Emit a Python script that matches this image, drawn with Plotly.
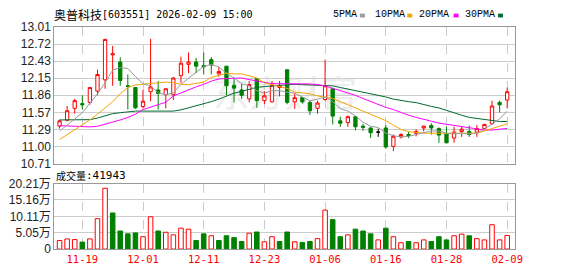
import plotly.graph_objects as go

W, H = 578, 276

dates = [
    "2025-11-14", "2025-11-17", "2025-11-18", "2025-11-19", "2025-11-20", "2025-11-21",
    "2025-11-24", "2025-11-25", "2025-11-26", "2025-11-27", "2025-11-28", "2025-12-01",
    "2025-12-02", "2025-12-03", "2025-12-04", "2025-12-05", "2025-12-08", "2025-12-09",
    "2025-12-10", "2025-12-11", "2025-12-12", "2025-12-15", "2025-12-16", "2025-12-17",
    "2025-12-18", "2025-12-19", "2025-12-22", "2025-12-23", "2025-12-24", "2025-12-25",
    "2025-12-26", "2025-12-29", "2025-12-30", "2025-12-31", "2026-01-05", "2026-01-06",
    "2026-01-07", "2026-01-08", "2026-01-09", "2026-01-12", "2026-01-13", "2026-01-14",
    "2026-01-15", "2026-01-16", "2026-01-19", "2026-01-20", "2026-01-21", "2026-01-22",
    "2026-01-23", "2026-01-26", "2026-01-27", "2026-01-28", "2026-01-29", "2026-01-30",
    "2026-02-02", "2026-02-03", "2026-02-04", "2026-02-05", "2026-02-06", "2026-02-09",
]

opens = [11.34, 11.44, 11.64, 11.72, 11.74, 11.93, 12.12, 12.54, 12.42, 12.02,
         11.99, 11.67, 11.92, 11.95, 11.87, 11.87, 12.19, 12.38, 12.42, 12.36,
         12.46, 12.22, 12.35, 12.03, 11.95, 11.80, 12.14, 11.77, 11.75, 11.99,
         12.29, 11.75, 11.82, 11.74, 11.64, 11.79, 11.97, 11.43, 11.40, 11.50,
         11.34, 11.31, 11.24, 11.31, 11.00, 11.16, 11.20, 11.22, 11.31, 11.35,
         11.30, 11.21, 11.14, 11.25, 11.25, 11.24, 11.30, 11.38, 11.74, 11.78]
highs = [11.45, 11.68, 11.80, 11.86, 11.99, 12.29, 12.81, 12.69, 12.50, 12.21,
         11.99, 11.95, 12.81, 12.10, 11.97, 12.17, 12.51, 12.58, 12.49, 12.58,
         12.50, 12.34, 12.35, 12.16, 12.05, 12.10, 12.15, 11.93, 12.10, 12.10,
         12.29, 11.89, 11.83, 11.78, 11.77, 12.46, 11.99, 11.50, 11.52, 11.50,
         11.38, 11.32, 11.30, 11.36, 11.20, 11.22, 11.25, 11.29, 11.35, 11.39,
         11.32, 11.33, 11.33, 11.33, 11.35, 11.36, 11.38, 11.77, 11.77, 11.99]
lows = [11.30, 11.42, 11.55, 11.62, 11.70, 11.86, 11.97, 12.02, 12.02, 11.62,
        11.63, 11.64, 11.76, 11.62, 11.64, 11.78, 12.07, 12.23, 12.23, 12.21,
        12.21, 12.17, 11.86, 11.74, 11.80, 11.74, 11.65, 11.71, 11.74, 11.84,
        11.71, 11.63, 11.72, 11.53, 11.55, 11.77, 11.37, 11.33, 11.33, 11.27,
        11.26, 11.14, 11.16, 10.96, 10.92, 11.13, 11.14, 11.17, 11.25, 11.20,
        11.06, 11.06, 11.06, 11.16, 11.16, 11.16, 11.28, 11.37, 11.57, 11.64]
closes = [11.43, 11.60, 11.77, 11.70, 11.99, 12.21, 12.80, 12.56, 12.11, 12.01,
          11.65, 11.76, 12.00, 11.89, 11.97, 12.15, 12.40, 12.42, 12.35, 12.34,
          12.37, 12.26, 12.02, 11.98, 11.86, 12.04, 11.77, 11.85, 12.03, 12.02,
          11.74, 11.82, 11.75, 11.60, 11.73, 12.02, 11.51, 11.39, 11.50, 11.33,
          11.32, 11.23, 11.24, 10.99, 11.17, 11.20, 11.18, 11.25, 11.34, 11.31,
          11.19, 11.06, 11.24, 11.29, 11.20, 11.30, 11.37, 11.68, 11.70, 11.92]

ma5 = [11.259, 11.355, 11.461, 11.567, 11.726, 11.885, 12.071, 12.283, 12.326, 12.310,
       12.177, 12.055, 12.018, 11.901, 11.869, 11.901, 12.045, 12.151, 12.241, 12.347,
       12.379, 12.336, 12.230, 12.151, 12.055, 12.018, 11.938, 11.896, 11.938, 11.938,
       11.912, 11.896, 11.832, 11.769, 11.795, 11.832, 11.753, 11.636, 11.594, 11.514,
       11.408, 11.339, 11.318, 11.222, 11.180, 11.159, 11.169, 11.196, 11.233, 11.259,
       11.259, 11.222, 11.212, 11.222, 11.212, 11.222, 11.291, 11.381, 11.461, 11.594]
ma10 = [11.116, 11.196, 11.275, 11.355, 11.445, 11.541, 11.647, 11.753, 11.885, 11.991,
        12.034, 12.045, 12.061, 12.071, 12.082, 12.071, 12.045, 12.039, 12.055, 12.082,
        12.161, 12.198, 12.230, 12.220, 12.220, 12.188, 12.151, 12.071, 12.045, 12.007,
        11.976, 11.912, 11.901, 11.885, 11.848, 11.832, 11.806, 11.753, 11.700, 11.636,
        11.583, 11.530, 11.477, 11.434, 11.355, 11.286, 11.249, 11.233, 11.222, 11.222,
        11.222, 11.217, 11.212, 11.212, 11.212, 11.222, 11.259, 11.302, 11.339, 11.381]
ma20 = [11.350, 11.344, 11.339, 11.328, 11.328, 11.339, 11.371, 11.408, 11.445, 11.488,
        11.541, 11.620, 11.657, 11.700, 11.742, 11.848, 11.901, 11.949, 12.002, 12.045,
        12.098, 12.135, 12.140, 12.151, 12.151, 12.124, 12.098, 12.071, 12.055, 12.055,
        12.055, 12.055, 12.055, 12.050, 12.039, 12.018, 11.976, 11.938, 11.901, 11.859,
        11.806, 11.753, 11.710, 11.657, 11.620, 11.567, 11.525, 11.488, 11.450, 11.424,
        11.392, 11.371, 11.355, 11.328, 11.318, 11.286, 11.275, 11.275, 11.286, 11.302]
ma30 = [11.445, 11.445, 11.445, 11.445, 11.450, 11.477, 11.514, 11.551, 11.567, 11.583,
        11.594, 11.594, 11.594, 11.583, 11.583, 11.594, 11.615, 11.647, 11.678, 11.710,
        11.753, 11.795, 11.848, 11.896, 11.928, 11.965, 11.991, 12.007, 12.018, 12.029,
        12.039, 12.045, 12.039, 12.034, 12.029, 12.029, 12.018, 11.991, 11.965, 11.938,
        11.912, 11.896, 11.869, 11.832, 11.795, 11.769, 11.753, 11.737, 11.700, 11.673,
        11.647, 11.604, 11.557, 11.525, 11.488, 11.472, 11.445, 11.434, 11.419, 11.419]

volumes_wan = [2.64, 3.13, 2.93, 2.15, 3.13, 9.38, 18.75, 11.13, 5.57, 4.69,
               4.98, 3.81, 9.96, 5.57, 5.18, 4.39, 6.45, 6.15, 2.64, 4.69,
               4.10, 2.64, 4.10, 3.52, 2.34, 4.88, 5.27, 2.25, 3.81, 2.34,
               5.27, 2.25, 2.05, 2.34, 3.22, 12.01, 9.08, 3.81, 4.39, 6.15,
               5.57, 4.69, 2.83, 6.45, 3.81, 1.95, 2.34, 1.95, 2.83, 2.34,
               3.81, 2.83, 4.10, 4.59, 4.10, 3.22, 2.83, 7.52, 2.83, 4.19]

tick_dates = ["2025-11-19", "2025-12-01", "2025-12-11", "2025-12-23",
              "2026-01-06", "2026-01-16", "2026-01-28", "2026-02-09"]
tick_labels = ["11-19", "12-01", "12-11", "12-23", "01-06", "01-16", "01-28", "02-09"]

price_ticks = [10.71, 10.9975, 11.285, 11.5725, 11.86, 12.1475, 12.435, 12.7225, 13.01]
price_labels = ["10.71", "11.00", "11.29", "11.57", "11.86", "12.15", "12.43", "12.72", "13.01"]
vol_ticks = [0, 5.0525, 10.105, 15.1575, 20.21]
vol_labels = ["0", "5.05万", "10.11万", "15.16万", "20.21万"]

title_name = "奥普科技"
title_rest = "[603551] 2026-02-09 15:00"
vol_title = "成交量"
vol_last = ":41943"

RED = "#ff0000"
GREEN = "#008000"
MA_COLORS = {"5PMA": "#9a9a9a", "10PMA": "#f5a300", "20PMA": "#ff00ff", "30PMA": "#006a30"}

n = len(dates)
fig = go.Figure()

norm = [i for i in range(n) if opens[i] != closes[i]]
doji = [i for i in range(n) if opens[i] == closes[i]]

fig.add_trace(go.Candlestick(
    x=[dates[i] for i in norm], open=[opens[i] for i in norm], high=[highs[i] for i in norm],
    low=[lows[i] for i in norm], close=[closes[i] for i in norm],
    increasing=dict(line=dict(color=RED, width=1), fillcolor="white"),
    decreasing=dict(line=dict(color=GREEN, width=1), fillcolor=GREEN),
    whiskerwidth=0, showlegend=False, hoverinfo="skip", xaxis="x", yaxis="y"))
if doji:
    fig.add_trace(go.Candlestick(
        x=[dates[i] for i in doji], open=[opens[i] for i in doji], high=[highs[i] for i in doji],
        low=[lows[i] for i in doji], close=[closes[i] for i in doji],
        increasing=dict(line=dict(color="black", width=1), fillcolor="black"),
        decreasing=dict(line=dict(color="black", width=1), fillcolor="black"),
        whiskerwidth=0, showlegend=False, hoverinfo="skip", xaxis="x", yaxis="y"))

for name, vals in [("30PMA", ma30), ("20PMA", ma20), ("10PMA", ma10), ("5PMA", ma5)]:
    fig.add_trace(go.Scatter(x=dates, y=vals, mode="lines", line=dict(color=MA_COLORS[name], width=1),
                             showlegend=False, hoverinfo="skip", xaxis="x", yaxis="y"))

up = []
for i in range(n):
    if i == 0:
        up.append(closes[i] >= opens[i])
    else:
        up.append(closes[i] >= closes[i - 1])
fig.add_trace(go.Bar(
    x=dates, y=volumes_wan, width=0.6,
    marker=dict(color=["white" if u else GREEN for u in up],
                line=dict(color=[RED if u else GREEN for u in up], width=1)),
    showlegend=False, hoverinfo="skip", xaxis="x2", yaxis="y2"))

xdom = [55 / W, 522 / W]
main_dom = [1 - 165 / H, 1 - 21 / H]
vol_dom = [1 - 255 / H, 1 - 186 / H]
GRID = "#cccccc"
BORDER = "#999999"

common_x = dict(type="category", categoryorder="array", categoryarray=dates, range=[-0.7, 60.0],
                tickvals=tick_dates, showgrid=True, gridcolor=GRID, griddash="dash", gridwidth=1,
                showline=True, mirror=True, linecolor=BORDER, linewidth=1, ticks="",
                zeroline=False, fixedrange=True, domain=xdom)

fig.update_layout(
    width=W, height=H, autosize=False,
    margin=dict(l=0, r=0, t=0, b=0),
    paper_bgcolor="white", plot_bgcolor="white",
    boxgap=0.38, bargap=0.4,
    xaxis=dict(**common_x, anchor="y", showticklabels=False, rangeslider=dict(visible=False)),
    xaxis2=dict(**common_x, anchor="y2", showticklabels=True, ticktext=tick_labels,
                tickfont=dict(family="DejaVu Sans Mono", size=10.5, color=RED)),
    yaxis=dict(domain=main_dom, range=[10.71, 13.01], tickvals=price_ticks, ticktext=price_labels,
               showgrid=True, gridcolor=GRID, gridwidth=1, showline=True, mirror=True,
               linecolor=BORDER, zeroline=False, ticks="", anchor="x", fixedrange=True,
               tickfont=dict(family="Liberation Sans, Arial", size=12, color="#222222")),
    yaxis2=dict(domain=vol_dom, range=[0, 20.21], tickvals=vol_ticks, ticktext=vol_labels,
                showgrid=True, gridcolor=GRID, gridwidth=1, showline=True, mirror=True,
                linecolor=BORDER, zeroline=False, ticks="", anchor="x2", fixedrange=True,
                tickfont=dict(family="Liberation Sans, Arial, Noto Sans CJK SC", size=12, color="#222222")),
    showlegend=False,
)

# watermark
fig.add_shape(type="rect", xref="paper", yref="paper", x0=200 / W, x1=378 / W,
              y0=1 - 112 / H, y1=1 - 77 / H, line=dict(width=0), fillcolor="rgba(0,0,0,0)",
              layer="below",
              label=dict(text="东方财富", textposition="middle center",
                         font=dict(family="Noto Sans CJK SC", size=36, color="#ededed")))

ann = []
def add_text(text, x, y, family, size, color="black"):
    ann.append(dict(text=text, x=x / W, y=1 - y / H, xref="paper", yref="paper",
                    xanchor="left", yanchor="middle", showarrow=False,
                    font=dict(family=family, size=size, color=color), borderpad=0))

add_text(title_name, 54, 8, "Noto Sans CJK SC", 12)
add_text(title_rest, 102, 8, "DejaVu Sans Mono", 10)
add_text(vol_title, 56, 177, "Noto Sans CJK SC", 10)
add_text(vol_last, 86, 177, "DejaVu Sans Mono", 11)

legend_pos = [("5PMA", 337, 365), ("10PMA", 379, 413), ("20PMA", 424, 460), ("30PMA", 471, 505)]
for name, tx, sx in legend_pos:
    add_text(name, tx, 8, "Liberation Mono", 10)
    fig.add_shape(type="rect", xref="paper", yref="paper", x0=sx / W, x1=(sx + 5) / W,
                  y0=1 - 11 / H, y1=1 - 7 / H, line=dict(width=0), fillcolor=MA_COLORS[name])

fig.update_layout(annotations=ann)
fig.write_html("out.html")
